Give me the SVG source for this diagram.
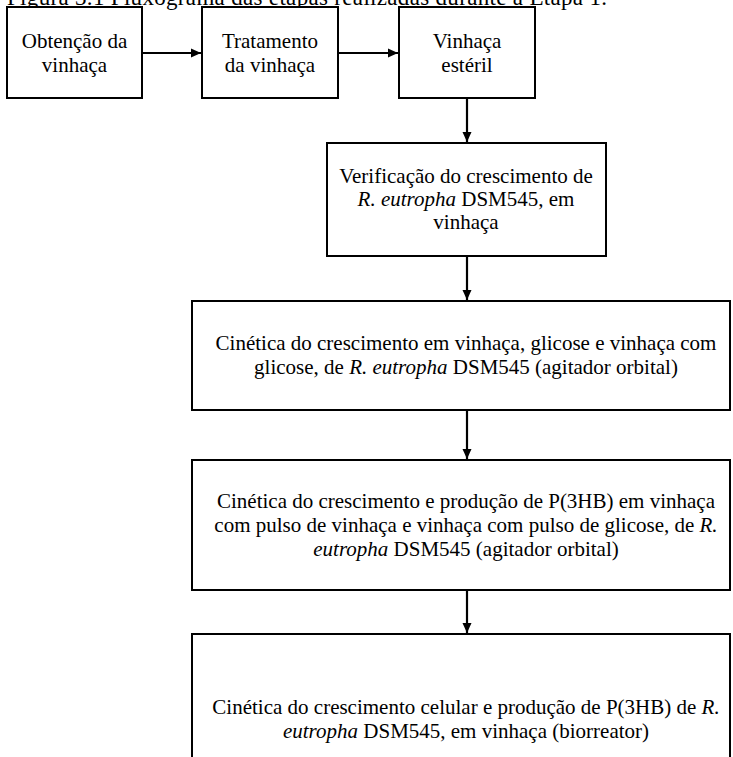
<svg xmlns="http://www.w3.org/2000/svg" width="733" height="757" viewBox="0 0 733 757" font-family="'Liberation Serif', Tinos, 'Times New Roman', 'DejaVu Serif', serif">
<style>
text{font-family:'Liberation Serif',Tinos,'Times New Roman','DejaVu Serif',serif;font-size:21px;fill:#000;text-anchor:middle}
.cap{text-anchor:start;font-size:23px}
.box{fill:#fff;stroke:#000;stroke-width:2}
.con{stroke:#000;stroke-width:2.2;fill:none}
.i{font-style:italic}
</style>
<defs>
<marker id="ah" markerWidth="11" markerHeight="11" refX="10" refY="5.5" orient="auto" markerUnits="userSpaceOnUse">
<path d="M0,1 L10,5.5 L0,10 Z" fill="#000"/>
</marker>
</defs>
<text class="cap" x="7" y="5" textLength="600" lengthAdjust="spacing">Figura  3.1 Fluxograma das etapas realizadas durante a Etapa 1.</text>
<g id="connectors">
<line class="con" x1="142" y1="53" x2="201" y2="53" marker-end="url(#ah)"/>
<line class="con" x1="338" y1="53" x2="398" y2="53" marker-end="url(#ah)"/>
<line class="con" x1="467" y1="98" x2="467" y2="142" marker-end="url(#ah)"/>
<line class="con" x1="467" y1="256" x2="467" y2="300" marker-end="url(#ah)"/>
<line class="con" x1="467" y1="410" x2="467" y2="459" marker-end="url(#ah)"/>
<line class="con" x1="467" y1="590" x2="467" y2="633" marker-end="url(#ah)"/>
</g>
<g id="n1">
<rect class="box" x="7" y="7" width="135" height="91"/>
<text x="74.5" y="48">Obtenção da</text>
<text x="74.5" y="72">vinhaça</text>
</g>
<g id="n2">
<rect class="box" x="202" y="7" width="136" height="91"/>
<text x="270" y="48">Tratamento</text>
<text x="270" y="72">da vinhaça</text>
</g>
<g id="n3">
<rect class="box" x="399" y="7" width="136" height="91"/>
<text x="467" y="48">Vinhaça</text>
<text x="467" y="72">estéril</text>
</g>
<g id="n4">
<rect class="box" x="327" y="143" width="279" height="113"/>
<text x="466" y="183">Verificação  do crescimento de</text>
<text x="466" y="206"><tspan class="i">R. eutropha</tspan> DSM545, em</text>
<text x="466" y="229">vinhaça</text>
</g>
<g id="n5">
<rect class="box" x="192" y="301" width="538" height="109"/>
<text x="466" y="350">Cinética do crescimento em vinhaça, glicose e vinhaça com</text>
<text x="466" y="374">glicose, de <tspan class="i">R. eutropha</tspan> DSM545 (agitador orbital)</text>
</g>
<g id="n6">
<rect class="box" x="192" y="460" width="538" height="130"/>
<text x="466" y="508">Cinética do crescimento e produção de P(3HB) em vinhaça</text>
<text x="466" y="532">com pulso de vinhaça e vinhaça com pulso de glicose, de <tspan class="i">R.</tspan></text>
<text x="466" y="556"><tspan class="i">eutropha</tspan> DSM545 (agitador orbital)</text>
</g>
<g id="n7">
<rect class="box" x="192" y="634" width="538" height="140"/>
<text x="466" y="714">Cinética do crescimento celular  e produção de P(3HB) de <tspan class="i">R.</tspan></text>
<text x="466" y="738"><tspan class="i">eutropha</tspan> DSM545, em vinhaça (biorreator)</text>
</g>
</svg>
